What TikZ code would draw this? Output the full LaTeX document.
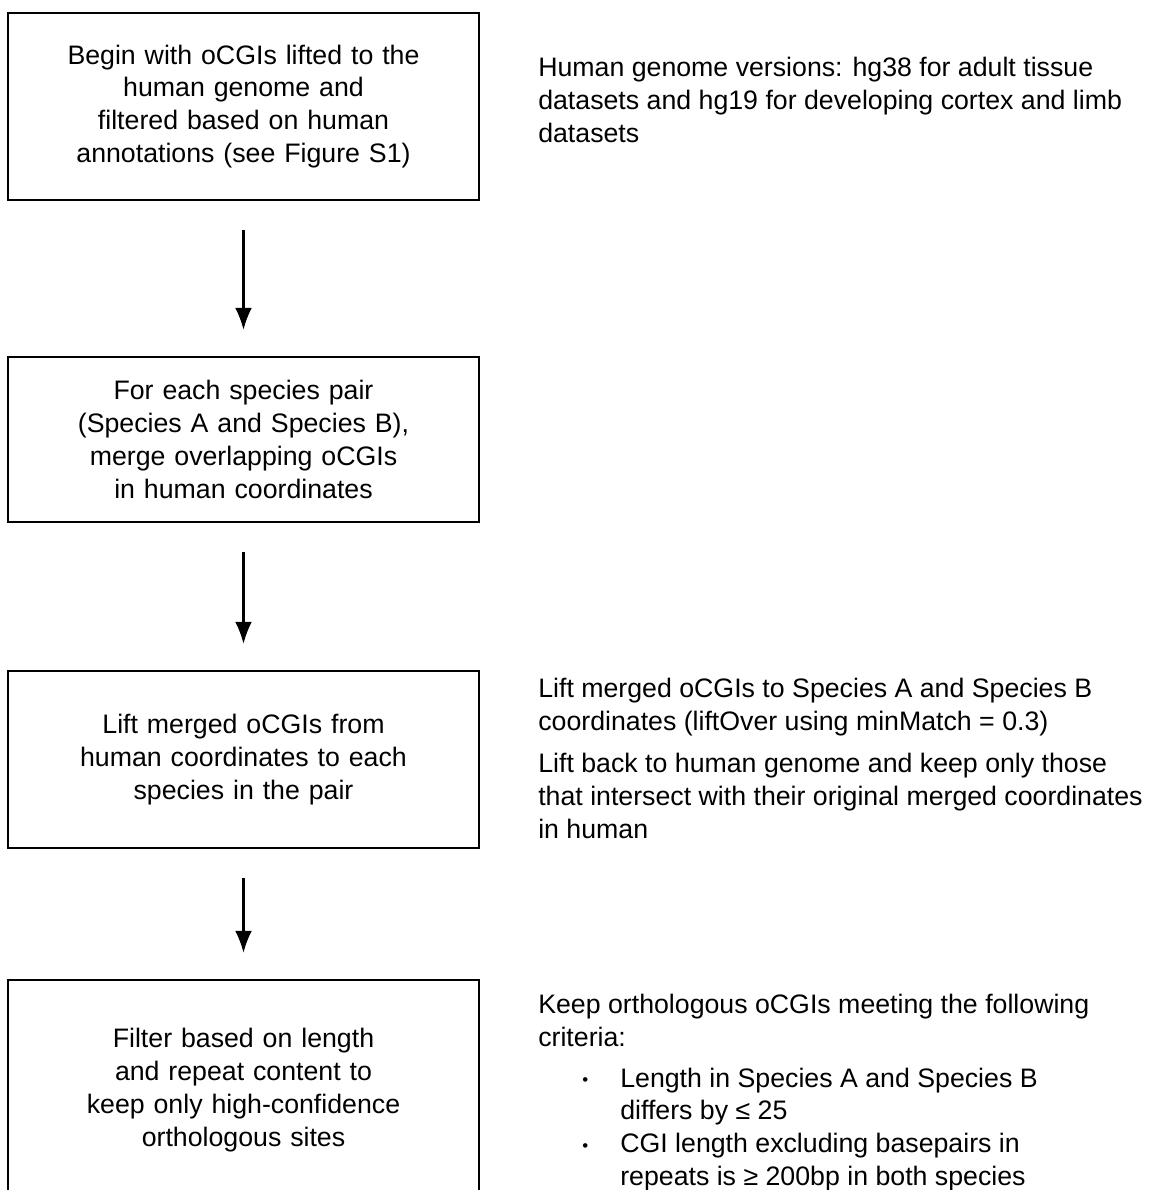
\documentclass[tikz,border=0pt]{standalone}
\usepackage{fontspec}
\setmainfont{Liberation Sans}
\usetikzlibrary{arrows.meta}
\tikzset{>={Latex[length=5.5mm,width=4.2mm]}}
\tikzset{
  stepbox/.style={draw, line width=1.5pt, align=center, inner sep=0pt,
    text width=11cm, font=\fontsize{19}{23.4}\selectfont},
  note/.style={anchor=base west, align=left, inner sep=0pt,
    font=\fontsize{19}{23.2}\selectfont},
  flow/.style={line width=1.6pt, ->, shorten <=0.72cm, shorten >=0.65cm}
}
\newcommand{\dotitem}{\makebox[0.95cm][l]{\raisebox{0.05em}{\fontsize{12}{12}\selectfont\textbullet}}}

\begin{document}
\begin{tikzpicture}[x=0.025cm,y=-0.025cm]
    \useasboundingbox (0,0) rectangle (1168,1190);
    \clip (0,0) rectangle (1168,1190);

    \node[stepbox, minimum width=11.775cm, minimum height=4.675cm] (begin) at (243.5,106.5)
      {Begin with oCGIs lifted to the\\ human genome and\\ filtered based on human\\ annotations (see Figure S1)};
    \node[stepbox, minimum width=11.775cm, minimum height=4.125cm] (merge) at (243.5,439.5)
      {For each species pair\\ (Species A and Species B),\\ merge overlapping oCGIs\\ in human coordinates};
    \node[stepbox, minimum width=11.775cm, minimum height=4.425cm] (lift) at (243.5,759.5)
      {Lift merged oCGIs from\\ human coordinates to each\\ species in the pair};
    \node[stepbox, minimum width=11.775cm, minimum height=5.5cm] (filter) at (243.5,1090)
      {Filter based on length\\ and repeat content to\\ keep only high-confidence\\ orthologous sites};

    \draw[flow] (begin) -- (merge);
    \draw[flow] (merge) -- (lift);
    \draw[flow] (lift) -- (filter);

    % notes: anchored at the baseline of their last line
    \node[note] (genome) at (538,142)
      {Human genome versions: hg38 for adult tissue\\ datasets and hg19 for developing cortex and limb\\ datasets};
    \node[note] (liftnote) at (538,838)
      {Lift merged oCGIs to Species A and Species B\\ coordinates (liftOver using minMatch = 0.3)\\[0.25cm]
       Lift back to human genome and keep only those\\ that intersect with their original merged coordinates\\ in human};
    \node[note] (keep) at (538,1185)
      {Keep orthologous oCGIs meeting the following\\ criteria:\\[0.2cm]
       \hspace*{1.1cm}\dotitem Length in Species A and Species B\\
       \hspace*{2.05cm}differs by ≤ 25\\
       \hspace*{1.1cm}\dotitem CGI length excluding basepairs in\\
       \hspace*{2.05cm}repeats is ≥ 200bp in both species};
\end{tikzpicture}
\end{document}
